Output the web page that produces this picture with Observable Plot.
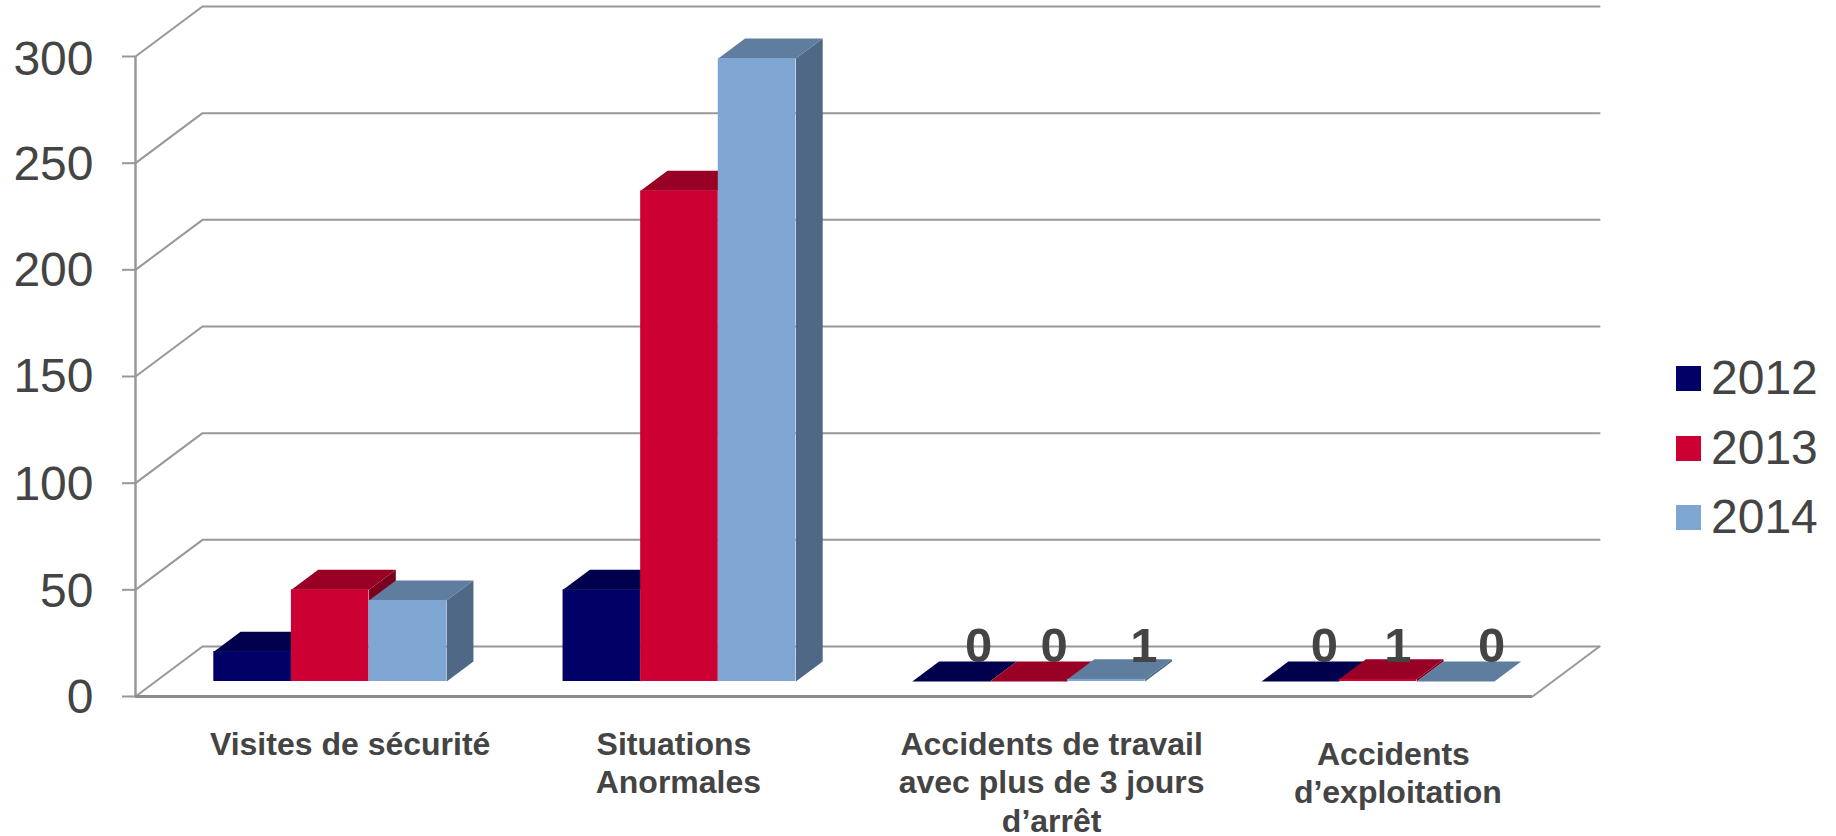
<!DOCTYPE html>
<html><head><meta charset="utf-8">
<script src="https://cdn.jsdelivr.net/npm/d3@7"></script>
<script src="https://cdn.jsdelivr.net/npm/@observablehq/plot@0.6"></script>
<style>
html,body{margin:0;padding:0;background:#fff}
#wrap{position:relative;width:1836px;height:836px;font-family:"Liberation Sans",Arial,sans-serif;color:#444}
svg{display:block}
.legend{position:absolute;left:1676px;top:351px}
.row{position:absolute;left:0;white-space:nowrap;display:flex;align-items:center;height:54px;font-size:48px;line-height:54px}
.sw{width:25px;height:25px;margin-right:10px;flex:none}
</style></head><body>
<div id="wrap"></div>
<script>
const categories = ["Visites de sécurité", "Situations \nAnormales", "Accidents de travail\navec plus de 3 jours\nd’arrêt", "Accidents \nd’exploitation"];
const years = ["2012", "2013", "2014"];
const values2012 = [14, 43, 0, 0];
const values2013 = [43, 230, 0, 1];
const values2014 = [38, 292, 1, 0];
const yTicks = [0, 50, 100, 150, 200, 250, 300];
const labelledCategories = [2, 3];

const frontColors = ["#000066", "#CC0033", "#7FA5D2"];
const topColors = ["#00004D", "#990026", "#5F7D9E"];
const sideColors = ["#00003D", "#7A001F", "#4F6885"];
const ink = "#444444", rule = "#989898";

const series = [values2012, values2013, values2014];
// layout of the fake 3D box
const W = 1836, H = 836, L = 135, R = 1532, T = 56, B = 696;
const unitX = (R - L) / 4, unitY = (B - T) / 300;
const dX = z => z * 67 / unitX, dY = z => z * 50 / unitY;
const barW = 1 / 4.5, left = (c, s) => c + (0.75 + s) * barW;
const Z0 = 0.3, Z1 = 0.7;

const bars = series.flatMap((vals, s) => vals.map((value, c) => ({c, s, value})));
const face = (b, kind) => {
  const x0 = left(b.c, b.s), x1 = x0 + barW, v = b.value, id = `${b.c}-${b.s}-${kind}`;
  const fill = kind === "top" ? topColors[b.s] : sideColors[b.s];
  const pts = kind === "top"
    ? [[x0, v, Z0], [x1, v, Z0], [x1, v, Z1], [x0, v, Z1]]
    : [[x1, 0, Z0], [x1, v, Z0], [x1, v, Z1], [x1, 0, Z1]];
  return pts.map(([x, y, z]) => ({id, fill, x: x + dX(z), y: y + dY(z)}));
};
const barMarks = years.flatMap((_, s) => {
  const own = bars.filter(b => b.s === s);
  const faces = own.flatMap(b => [...face(b, "side"), ...face(b, "top")]);
  return [
    Plot.line(faces, {x: "x", y: "y", z: "id", fill: "fill", stroke: null, curve: "linear-closed"}),
    Plot.rect(own, {
      x1: b => left(b.c, b.s) + dX(Z0), x2: b => left(b.c, b.s) + barW + dX(Z0),
      y1: () => dY(Z0), y2: b => b.value + dY(Z0), fill: frontColors[s]
    })
  ];
});

const wall = yTicks.flatMap(v => [
  {id: `w${v}`, x: 0, y: v}, {id: `w${v}`, x: dX(1), y: v + dY(1)}, {id: `w${v}`, x: 4 + dX(1), y: v + dY(1)}
]);
const floorEdge = [{x: 4, y: 0}, {x: 4 + dX(1), y: dY(1)}];

const catDx = [40, 19, 43, 40], catDy = [31, 31, 31, 41];
const valueLabels = labelledCategories.flatMap(c => series.map((vals, s) => ({c, s, value: vals[c]})));
const valueDx = [27.5, 25.5, 37.5, 24, 20, 36];
const tickNudge = [1.5, 1.5, 1.5, 0.5, 0.5, 1.5, 3.5];

const chart = Plot.plot({
  width: W, height: H, marginLeft: L, marginRight: W - R, marginTop: T, marginBottom: H - B,
  style: {background: "#fff", fontFamily: '"Liberation Sans", Arial, sans-serif'},
  x: {type: "linear", domain: [0, 4], axis: null},
  y: {domain: [0, 300], axis: null},
  color: {type: "identity"},
  marks: [
    Plot.line(wall, {x: "x", y: "y", z: "id", stroke: rule, strokeWidth: 2}),
    Plot.line(floorEdge, {x: "x", y: "y", stroke: rule, strokeWidth: 2}),
    Plot.ruleX([0], {y1: 0, y2: 300, stroke: rule, strokeWidth: 2.5}),
    Plot.ruleY([0], {x1: 0, x2: 4, stroke: "#8c8c8c", strokeWidth: 3}),
    Plot.axisY({ticks: yTicks, tickSize: 13, tickPadding: 29, fontSize: 48, color: ink, stroke: rule, strokeWidth: 2, label: null, tickFormat: d => d, anchor: "left", textStroke: "none"}),
    ...barMarks,
    Plot.text(valueLabels, {
      x: d => left(d.c, d.s) + barW / 2 + dX(Z0), y: () => 0, text: d => String(d.value),
      dy: -50, fontSize: 49, fontWeight: "bold", fill: ink
    }),
    Plot.text(categories.map((text, c) => ({text, c})), {
      x: d => d.c + 0.5, y: () => 0, text: "text", lineAnchor: "top", fontSize: 32, fontWeight: "bold",
      fill: ink, lineHeight: 1.2
    })
  ]
});
document.getElementById("wrap").appendChild(chart);

// per-label placement nudges (hand-placed boxes in the original)
const groups = [...chart.querySelectorAll('g[aria-label="text"]')];
groups[0].querySelectorAll("text").forEach((t, i) => t.setAttribute("transform", `${t.getAttribute("transform")||""} translate(${valueDx[i]},0)`));
groups[1].querySelectorAll("text").forEach((t, i) => t.setAttribute("transform", `${t.getAttribute("transform")||""} translate(${catDx[i]},${catDy[i]})`));
chart.querySelectorAll('g[aria-label="y-axis tick label"] text').forEach((t, i) => t.setAttribute("transform", `${t.getAttribute("transform")||""} translate(0,${tickNudge[i]})`));

// legend
const legend = document.createElement("div");
legend.className = "legend";
years.forEach((y, i) => {
  const r = document.createElement("div");
  r.className = "row";
  r.style.top = [0, 70, 139][i] + "px";
  r.innerHTML = `<span class="sw" style="background:${frontColors[i]}"></span><span>${y}</span>`;
  legend.appendChild(r);
});
document.getElementById("wrap").appendChild(legend);
</script>
</body></html>
